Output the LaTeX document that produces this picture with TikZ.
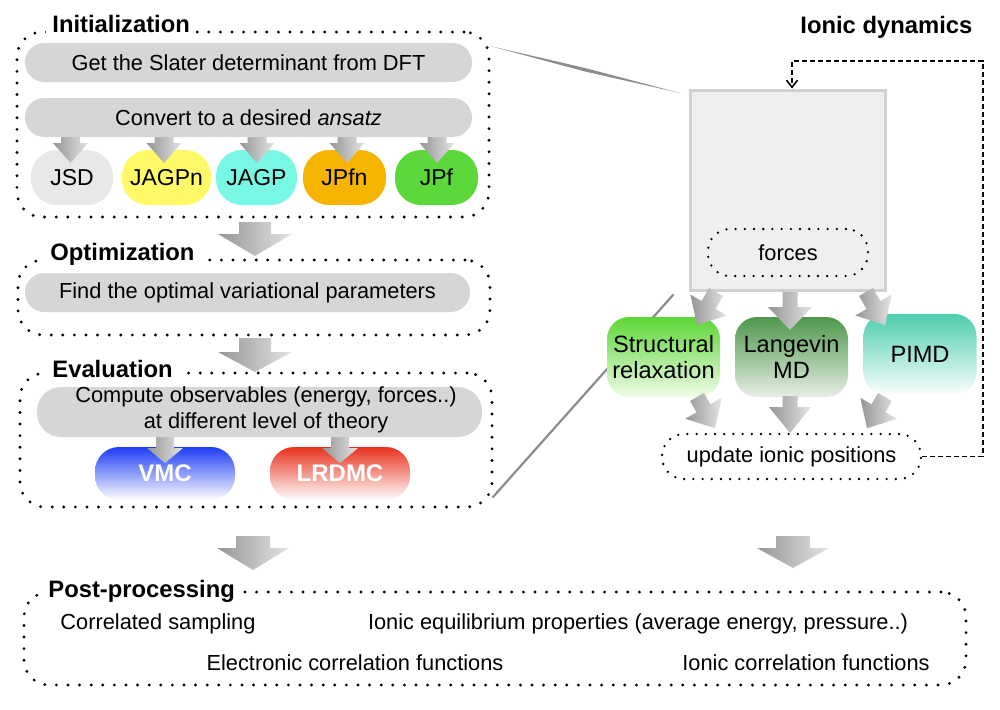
\documentclass[tikz,border=0pt]{standalone}
\usepackage{fontspec}
\setmainfont{Liberation Sans}
\usetikzlibrary{arrows.meta}
\definecolor{barcol}{HTML}{D6D6D6}
\definecolor{jsdcol}{HTML}{E8E8E8}
\definecolor{jagpncol}{HTML}{FFF968}
\definecolor{jagpcol}{HTML}{78F8E4}
\definecolor{jpfncol}{HTML}{F4B400}
\definecolor{jpfcol}{HTML}{5CD83A}
\definecolor{vmccol}{HTML}{1E3DF5}
\definecolor{lrdmccol}{HTML}{E8321E}
\definecolor{srtop}{HTML}{5CD636}
\definecolor{srbot}{HTML}{F0FCE8}
\definecolor{lmdtop}{HTML}{4E974C}
\definecolor{lmdbot}{HTML}{E6EFE4}
\definecolor{pimdtop}{HTML}{4ECDAE}
\definecolor{pimdbot}{HTML}{F8FEFD}
\definecolor{boxfill}{HTML}{EFEFEF}
\definecolor{boxline}{HTML}{D0D0D0}
\definecolor{arrdark}{HTML}{959595}
\definecolor{arrlight}{HTML}{E4E4E4}
\definecolor{zoomcol}{HTML}{8C8C8C}
\newcommand\barrow[7]{\shade[arrowshade,shift={(#1,#2)},rotate=#3] (-#4,0) -- (#4,0) -- (#4,#5) -- (#6,#5) -- (0,{#5+#7}) -- (-#6,#5) -- (-#4,#5) -- cycle;}
\begin{document}
\begin{tikzpicture}[x=0.5pt,y=-0.5pt,
  every node/.style={inner sep=0pt,font=\fontsize{10.9}{13}\selectfont},
  dotbox/.style={draw,line width=1.6pt,dash pattern=on 0pt off 5.8pt,line cap=round,rounded corners=12.5pt},
  smalldot/.style={draw,line width=1.3pt,dash pattern=on 0pt off 4.6pt,line cap=round,rounded corners=11pt},
  titletext/.style={font=\fontsize{11.9}{14}\selectfont\bfseries,fill=white,inner xsep=3pt,inner ysep=2pt,anchor=base west},
  bar/.style={fill=barcol,rounded corners=9.7pt,minimum height=19.5pt,minimum width=223.5pt},
  ansatz/.style={rounded corners=13pt,minimum height=27.5pt,font=\fontsize{11.5}{13}\selectfont},
  method/.style={rounded corners=12pt,minimum width=70pt,minimum height=26.5pt,text=white,font=\fontsize{12}{14}\selectfont\bfseries},
  ionbox/.style={rounded corners=11pt,minimum width=56.5pt,minimum height=40pt,align=center,font=\fontsize{11.8}{13}\selectfont},
  arrowshade/.style={left color=arrdark,right color=arrlight},
  dashloop/.style={draw,line width=0.8pt,dash pattern=on 2.5pt off 1.5pt,-{Straight Barb[length=3.5pt,width=5.5pt]}},
  zoomline/.style={draw=zoomcol,line width=1.1pt,line cap=round}
]
\useasboundingbox (0,0) rectangle (1000,709);
\fill[white] (0,0) rectangle (1000,709);

% ---------- dotted section boxes ----------
\node[dotbox,minimum width=236pt,minimum height=92.5pt] (init) at (253,124.5) {};
\node[dotbox,minimum width=236pt,minimum height=37.5pt] (opt) at (254,297.5) {};
\node[dotbox,minimum width=236pt,minimum height=67pt] (eval) at (256,440) {};
\node[dotbox,minimum width=471pt,minimum height=46.5pt] (post) at (495,638.5) {};

\node[titletext] (tinit) at (46,32) {Initialization};
\node[titletext] (topt) at (44,260) {Optimization};
\node[titletext] (teval) at (46,377) {Evaluation};
\node[titletext] (tpost) at (42,597) {Post-processing};
\node[titletext] (tion) at (794,33) {Ionic dynamics};

% ---------- initialization ----------
\node[ansatz,fill=jsdcol,minimum width=41pt] (jsd) at (72,177.5) {JSD};
\node[ansatz,fill=jagpncol,minimum width=44.5pt] (jagpn) at (166.5,177.5) {JAGPn};
\node[ansatz,fill=jagpcol,minimum width=40.5pt] (jagp) at (256.5,177.5) {JAGP};
\node[ansatz,fill=jpfncol,minimum width=41.5pt] (jpfn) at (344.5,177.5) {JPfn};
\node[ansatz,fill=jpfcol,minimum width=41.5pt] (jpf) at (436.5,177.5) {JPf};
\barrow{70.5}{133}{0}{9.5}{10}{17.5}{20}
\barrow{164}{133}{0}{9.5}{10}{17.5}{20}
\barrow{257}{133}{0}{9.5}{10}{17.5}{20}
\barrow{347}{133}{0}{9.5}{10}{17.5}{20}
\barrow{437}{133}{0}{9.5}{10}{17.5}{20}
\node[bar] (dft) at (248.5,62.5) {Get the Slater determinant from DFT};
\node[bar] (conv) at (248.5,117.5) {Convert to a desired \textit{ansatz}};

% ---------- big arrows ----------
\barrow{255}{222}{0}{16}{12}{37}{22}
\barrow{255}{338}{0}{16}{14}{37}{20}
\barrow{253}{536}{0}{17}{12}{36}{22}
\barrow{793}{536}{0}{17}{12}{36}{20}

% ---------- optimization ----------
\node[bar,minimum width=222.5pt] (optbar) at (247.5,292.5) {Find the optimal variational parameters};

% ---------- evaluation ----------
\node[method,top color=vmccol,middle color=vmccol!85!white,bottom color=white] (vmc) at (165,473.5) {VMC};
\node[method,top color=lrdmccol,middle color=lrdmccol!85!white,bottom color=white] (lrdmc) at (340,473.5) {LRDMC};
\barrow{165}{433}{0}{9}{15}{18}{15}
\barrow{340}{433}{0}{9}{15}{18}{15}
\node[bar,minimum width=222.5pt,minimum height=25pt,rounded corners=12pt] (evalbar) at (259.5,412) {};
\node[align=center,font=\fontsize{10.9}{13}\selectfont] (evaltext) at (266,410) {Compute observables (energy, forces..)\\at different level of theory};

% ---------- zoom lines ----------
\fill[zoomcol] (490,46) -- (585,68) -- (680,93) -- (585,71.5) -- cycle;
\draw[zoomline] (673,295) -- (493,497);

% ---------- ionic dynamics ----------
\node[fill=boxfill,draw=boxline,line width=1.5pt,minimum width=97.5pt,minimum height=100pt] (big) at (787.5,190) {};
\node[smalldot,minimum width=80pt,minimum height=23.5pt] (forces) at (788,252.5) {forces};

\node[ionbox,top color=srtop,middle color=srtop!55!srbot,bottom color=srbot] (sr) at (663.5,357) {Structural\\relaxation};
\node[ionbox,top color=lmdtop,middle color=lmdtop!55!lmdbot,bottom color=lmdbot] (lmd) at (791.5,357) {Langevin\\MD};
\node[ionbox,top color=pimdtop,middle color=pimdtop!55!pimdbot,bottom color=pimdbot] (pimd) at (920,354) {PIMD};

\barrow{716}{292}{-30}{8}{15}{21}{23}
\barrow{790}{292}{0}{7.5}{15}{22}{23}
\barrow{866}{292}{30}{8}{15}{21}{23}

\barrow{697}{397}{30}{8}{13}{21}{23}
\barrow{790}{396}{0}{7.5}{11}{21}{26}
\barrow{885}{397}{-30}{8}{13}{21}{23}

\node[smalldot,minimum width=129.5pt,minimum height=22.5pt] (upd) at (791.5,456.5) {update ionic positions};

\coordinate (loopR) at (983,61);
\draw[dashloop] (upd.east) -| (loopR) -| ([xshift=2.25pt]big.north);

% ---------- post-processing ----------
\node (cs) at (158,624) {Correlated sampling};
\node (iep) at (638,624) {Ionic equilibrium properties (average energy, pressure..)};
\node (ecf) at (355,663) {Electronic correlation functions};
\node (icf) at (806,663) {Ionic correlation functions};
\end{tikzpicture}
\end{document}
